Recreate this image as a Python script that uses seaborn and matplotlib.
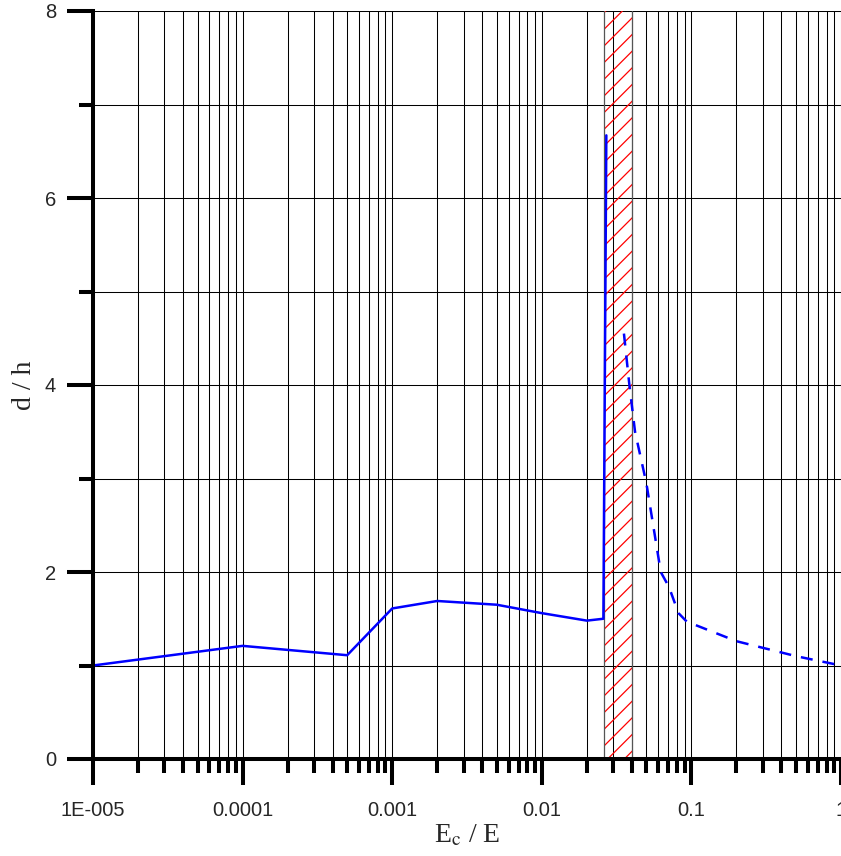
import numpy as np
import pandas as pd
import seaborn as sns
import matplotlib.pyplot as plt
from matplotlib.ticker import FixedLocator, NullFormatter

# Curve values
solid_x = [1e-5, 1e-4, 5e-4, 1e-3, 2e-3, 5e-3, 1e-2, 0.02, 0.0258, 0.027]
solid_y = [1.00, 1.21, 1.11, 1.61, 1.69, 1.65, 1.56, 1.48, 1.50, 6.67]

dashed_x = [0.0354, 0.0385, 0.042, 0.05, 0.0624, 0.0708, 0.082, 0.093, 0.1, 0.2, 0.5, 1.0]
dashed_y = [4.55, 4.00, 3.50, 2.95, 2.00, 1.84, 1.56, 1.47, 1.45, 1.26, 1.10, 1.00]

# Hatched band
band = [0.026, 0.04]

x_major = [1e-5, 1e-4, 1e-3, 1e-2, 1e-1, 1]
x_labels = ["1E-005", "0.0001", "0.001", "0.01", "0.1", "1"]
y_major = [0, 2, 4, 6, 8]
y_minor = [1, 3, 5, 7]

sns.set_style("white")
plt.rcParams['font.family'] = ['Liberation Sans', 'DejaVu Sans']
plt.rcParams['mathtext.fontset'] = 'stix'
plt.rcParams['hatch.linewidth'] = 0.9

df_solid = pd.DataFrame({"x": solid_x, "y": solid_y})
df_dash = pd.DataFrame({"x": dashed_x, "y": dashed_y})

fig = plt.figure(figsize=(8.41, 8.56), dpi=100)
ax = fig.add_axes([93 / 841, 97 / 856, 748 / 841, 748 / 856])
ax.set_xscale("log")
ax.set_xlim(1e-5, 1)
ax.set_ylim(0, 8)

# grid lines at every decade sub-step and every integer
minor_x = [m * 10.0 ** e for e in range(-5, 0) for m in range(2, 10)]
ax.xaxis.set_major_locator(FixedLocator(x_major))
ax.xaxis.set_minor_locator(FixedLocator(minor_x))
ax.set_xticklabels(x_labels)
ax.xaxis.set_minor_formatter(NullFormatter())
ax.yaxis.set_major_locator(FixedLocator(y_major))
ax.yaxis.set_minor_locator(FixedLocator(y_minor))
ax.grid(True, which="both", color="black", linewidth=0.75)
ax.set_axisbelow(True)

# hatched band
ax.axvspan(band[0], band[1], facecolor="none", edgecolor="red", hatch="//", linewidth=0, zorder=1.5)
ax.axvline(band[0], color="#555555", linewidth=0.9, zorder=1.6)
ax.axvline(band[1], color="#555555", linewidth=0.9, zorder=1.6)

sns.lineplot(data=df_solid, x="x", y="y", sort=False, estimator=None, color="#0000ff", linewidth=1.8, ax=ax, zorder=3)
sns.lineplot(data=df_dash, x="x", y="y", sort=False, estimator=None, color="#0000ff", linewidth=1.8,
             linestyle=(0, (4.8, 4)), ax=ax, zorder=3)

for s in ["top", "right"]:
    ax.spines[s].set_visible(False)
for s in ["left", "bottom"]:
    ax.spines[s].set_linewidth(2.9)
    ax.spines[s].set_color("black")
    ax.spines[s].set_zorder(4)

ax.tick_params(which="both", bottom=True, left=True, top=False, right=False)
ax.tick_params(which="major", direction="out", length=18.5, width=2.9, color="black", labelsize=14.5)
ax.tick_params(which="minor", direction="out", length=10, width=2.9, color="black")
ax.tick_params(axis="y", which="major", pad=8)
ax.tick_params(axis="x", which="major", pad=12)

ax.set_xlabel(r"E$_{\mathrm{c}}$ / E", fontsize=20, family="Liberation Serif", labelpad=2)
ax.set_ylabel("d / h", fontsize=20, family="Liberation Serif", labelpad=6)

fig.savefig("out.png", dpi=100)
